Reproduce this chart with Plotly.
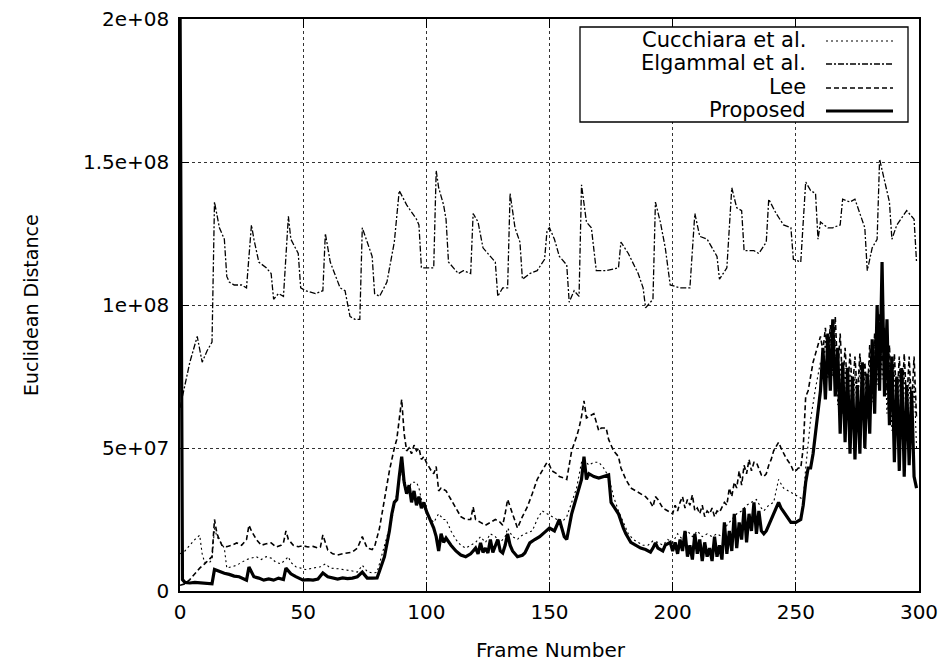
import plotly.graph_objects as go

# ---------------- data (values in units of 1e6) ----------------
elg_frames = [0, 2, 4, 6, 7, 9, 11, 13, 14, 16, 18, 19, 20, 22, 25, 27, 29, 30, 32, 35, 37, 38, 40, 42,
              44, 45, 48, 49, 51, 55, 58, 59, 61, 65, 67, 69, 71, 73, 74, 76, 78, 79, 81, 84, 87, 89,
              92, 96, 97, 98, 103, 104, 105, 107, 108, 109, 113, 115, 118, 119, 121, 123, 128, 129,
              131, 133, 134, 136, 138, 139, 142, 145, 148, 149, 150, 152, 154, 157, 158, 160, 162,
              163, 165, 167, 169, 173, 178, 179, 182, 186, 188, 189, 192, 193, 195, 197, 199, 203,
              207, 209, 211, 214, 218, 219, 222, 224, 226, 228, 229, 233, 235, 238, 239, 242, 245,
              248, 249, 252, 254, 256, 258, 259, 260, 263, 265, 268, 269, 272, 274, 278, 279, 281,
              283, 284, 286, 288, 289, 291, 295, 298, 299]
elg_vals = [64, 72, 80, 86, 89, 80, 84, 87, 136, 127, 123, 110, 108, 107, 107, 106, 128, 123, 115, 113,
            111, 102, 104, 103, 131, 123, 118, 106, 105, 104, 105, 125, 115, 106, 105, 96, 95, 95, 127,
            122, 117, 104, 103, 108, 122, 140, 135, 130, 128, 113, 113, 147, 141, 135, 130, 115, 111,
            112, 111, 132, 129, 120, 115, 103, 106, 106, 139, 127, 122, 109, 111, 112, 116, 126, 127,
            123, 117, 114, 101, 105, 103, 142, 129, 127, 112, 112, 113, 122, 118, 111, 106, 99, 102,
            136, 129, 120, 107, 106, 106, 132, 124, 123, 117, 109, 113, 141, 134, 133, 119, 119, 118,
            122, 137, 132, 128, 127, 116, 115, 143, 140, 139, 123, 129, 127, 127, 128, 137, 136, 137,
            127, 112, 120, 123, 151, 144, 136, 123, 128, 133, 130, 115]

cuc_frames = [0, 2, 4, 6, 8, 9, 10, 12, 13, 14, 15, 17, 18, 19, 21, 23, 25, 27, 29, 31, 33, 35, 37, 39,
              41, 43, 44, 45, 47, 49, 51, 54, 57, 59, 61, 64, 67, 70, 72, 74, 76, 78, 80, 82, 84, 86,
              88, 89, 90, 91, 92, 93, 94, 96, 97, 98, 100, 102, 103, 105, 107, 108, 110, 112, 114, 116,
              118, 120, 122, 124, 126, 128, 130, 132, 133, 135, 137, 138, 140, 143, 145, 147, 149, 151,
              153, 155, 157, 159, 161, 163, 164, 166, 168, 170, 172, 174, 176, 178, 180, 182, 184, 186,
              188, 190, 192, 194, 196, 198, 200, 202, 204, 206, 208, 210, 212, 214, 216, 218, 220, 222,
              224, 226, 228, 230, 232, 234, 236, 237, 239, 241, 243, 245, 247, 249, 251, 253, 254, 256,
              258, 260, 261, 262, 263, 264, 265, 266, 267, 268, 269, 270, 271, 272, 273, 274, 275, 276,
              277, 278, 279, 280, 281, 282, 283, 284, 285, 286, 287, 288, 289, 290, 291, 292, 293, 294,
              295, 296, 297, 298, 299]
cuc_vals = [13, 14, 16, 18, 19.5, 13, 10, 10, 11, 22, 19, 16, 15, 8, 8.5, 9, 10, 11, 11.5, 12, 11, 12,
            11.5, 10, 9.5, 11, 12, 10, 8.5, 8, 7.5, 8, 8.5, 9.5, 8, 7.8, 7.5, 7, 6.6, 9, 6.8, 6.3, 6.5,
            13, 19, 25, 34, 40, 42, 36, 35, 36, 38, 38, 36, 32, 27, 25, 24, 27, 25, 25, 21, 18, 16, 15,
            16, 17, 19, 17, 20, 19, 17, 19, 22, 19, 18, 19, 20, 21, 25, 28, 27, 26, 25, 24, 26, 31, 36,
            45, 46, 44, 45, 45, 43, 40, 33, 28, 24, 20, 18, 17, 16, 16, 17.5, 17, 16, 18, 17, 20, 18,
            21, 19, 21, 19, 20, 19, 20, 19, 23, 25, 27, 28, 30, 31, 32, 29, 28, 30, 31, 39, 36, 35, 34,
            33, 32, 43, 60, 71, 80, 76, 88, 74, 90, 75, 88, 65, 80, 62, 78, 60, 77, 58, 76, 60, 80, 62,
            76, 60, 82, 66, 88, 72, 95, 74, 88, 62, 80, 56, 77, 55, 76, 53, 77, 54, 75, 52, 74, 50]

lee_frames = [0, 2, 4, 6, 8, 10, 12, 13, 14, 15, 17, 19, 21, 23, 25, 27, 28, 29, 31, 33, 35, 37, 39, 41,
              42, 43, 44, 46, 48, 50, 52, 54, 56, 57, 58, 59, 60, 62, 64, 66, 68, 70, 72, 74, 75, 76,
              78, 79, 81, 83, 85, 87, 88, 89, 90, 91, 92, 93, 94, 95, 96, 97, 98, 99, 100, 102, 103,
              104, 105, 106, 108, 110, 112, 114, 116, 118, 119, 120, 122, 124, 126, 128, 130, 131, 132,
              133, 135, 137, 139, 141, 143, 145, 147, 149, 150, 151, 153, 154, 156, 157, 158, 159, 161,
              162, 163, 164, 165, 166, 168, 170, 171, 173, 174, 176, 178, 179, 181, 183, 185, 187, 189,
              191, 192, 193, 194, 196, 198, 200, 201, 202, 203, 204, 205, 206, 207, 208, 209, 210, 211,
              212, 213, 214, 215, 216, 217, 218, 219, 220, 221, 222, 223, 224, 225, 226, 227, 228, 229,
              230, 231, 232, 233, 234, 235, 236, 237, 238, 239, 240, 241, 243, 244, 246, 248, 249, 250,
              251, 252, 253, 254, 255, 256, 257, 258, 259, 260, 261, 262, 263, 264, 265, 266, 267, 268,
              269, 270, 271, 272, 273, 274, 275, 276, 277, 278, 279, 280, 281, 282, 283, 284, 285, 286,
              287, 288, 289, 290, 291, 292, 293, 294, 295, 296, 297, 298, 299]
lee_vals = [2, 2.5, 4, 6, 8, 9.5, 11, 12, 25, 20, 16, 15.5, 16, 16.8, 16, 18, 23, 21, 18, 16, 16.5,
            16.8, 15.4, 16, 16.8, 21, 18, 16, 15.5, 15.8, 15.4, 15.6, 15, 15.4, 19.6, 17, 14.3, 13,
            12.6, 13, 13.3, 13.6, 15, 19, 17, 15, 14.5, 15.5, 22, 32, 42, 50, 53, 60, 67, 55, 49, 50,
            48, 51, 49, 50, 46, 47, 45, 42, 41, 43.5, 35, 36, 35, 32, 29, 26, 25, 25, 29.4, 25, 24, 23,
            24, 25, 24, 23, 27, 32, 27, 22, 26, 29.4, 34, 39, 42, 45, 44, 42, 41, 40, 39.5, 39, 44, 49,
            54, 57, 61, 66.5, 60.5, 61, 62, 56, 57, 57, 53, 49, 47, 43, 39, 36, 35, 34, 33, 31, 29.4,
            33, 32, 29, 28, 27, 30, 28, 31, 33, 29, 32, 30, 33.6, 28, 29, 27, 30, 26, 28, 27, 29, 26,
            28, 27.5, 29, 31, 30, 36, 33, 38, 36, 42, 37, 44, 41, 46, 42, 45, 45, 43, 40.6, 40, 41, 44,
            46, 49, 52, 50, 46.5, 44, 42, 42, 43, 43, 50, 68, 70, 75, 80, 83, 86, 89, 84, 92, 80, 93,
            78, 96, 76, 90, 72, 85, 70, 83, 70, 82, 68, 83, 70, 80, 68, 86, 74, 90, 78, 97, 80, 92, 70,
            86, 66, 83, 65, 82, 64, 83, 65, 82, 64, 82, 60]

prop_frames = [0, 1, 2, 4, 6, 8, 10, 12, 13, 14, 16, 18, 20, 22, 24, 26, 27, 28, 30, 32, 34, 36, 38, 40,
               42, 43, 45, 47, 50, 52, 54, 56, 58, 60, 62, 64, 66, 68, 70, 72, 74, 76, 78, 80, 81, 83,
               85, 86, 87, 88, 89, 90, 91, 92, 93, 94, 95, 96, 97, 98, 99, 100, 102, 103, 104, 105, 106,
               107, 108, 110, 112, 114, 116, 118, 119, 120, 121, 122, 123, 124, 125, 126, 127, 128, 129,
               130, 131, 132, 133, 134, 135, 137, 139, 140, 142, 144, 146, 148, 150, 152, 154, 155, 156,
               157, 158, 159, 160, 161, 162, 163, 164, 165, 166, 168, 170, 172, 174, 175, 177, 178, 180,
               181, 183, 185, 187, 189, 191, 192, 193, 194, 196, 197, 199, 200, 201, 202, 203, 204, 205,
               206, 207, 208, 209, 210, 211, 212, 213, 214, 215, 216, 217, 218, 219, 220, 221, 222, 223,
               224, 225, 226, 227, 228, 229, 230, 231, 232, 233, 234, 235, 236, 237, 238, 240, 242, 243,
               244, 246, 248, 250, 252, 253, 254, 255, 256, 257, 258, 259, 260, 261, 262, 263, 264, 265,
               266, 267, 268, 269, 270, 271, 272, 273, 274, 275, 276, 277, 278, 279, 280, 281, 282, 283,
               284, 285, 286, 287, 288, 289, 290, 291, 292, 293, 294, 295, 296, 297, 298, 299]
prop_vals = [210, 4, 3, 2.8, 3, 2.8, 2.8, 2.6, 2.5, 7.5, 6.8, 6.2, 5.8, 5.2, 5, 4, 3.8, 8.4, 5, 4.5,
             3.8, 4.2, 3.8, 4.5, 4, 8, 6, 5, 3.8, 4, 3.8, 4.2, 6.3, 5, 4.5, 4.2, 4.6, 4.3, 4.5, 5, 6.6,
             4.5, 4.5, 4.6, 7, 12, 21, 27, 31, 32, 40, 47, 38, 34, 37, 31, 35, 30, 33, 29, 31, 28, 24,
             22, 19, 14, 20, 17, 18.5, 16, 14, 12.6, 12, 13, 14, 15, 13, 16.8, 13.5, 15, 13.3, 18, 13.5,
             16, 18, 14, 13.3, 16, 20, 16, 14, 12, 12.5, 13.3, 16.8, 18, 19, 20.5, 22, 21, 25, 22, 19,
             18, 23, 27, 30, 33, 36, 39, 47, 39, 41, 40, 39.5, 40, 40.6, 31, 28, 27, 22, 20, 17, 16, 15,
             14.5, 13.6, 15, 16.8, 15, 14, 16, 17, 14, 17, 13, 18, 14, 21, 12, 16, 11, 20, 13, 18, 10.5,
             17, 12, 15, 10.5, 19, 12, 16, 11, 24, 13, 21, 14, 27, 15, 24, 18, 29, 17, 27, 21, 31, 20, 28,
             21, 20, 21, 25, 29, 31, 29, 26.6, 24, 24, 25, 30, 38, 43, 43, 48, 55, 62, 70, 85, 67, 90,
             70, 95, 68, 85, 55, 80, 52, 78, 48, 75, 46, 72, 48, 80, 50, 76, 55, 88, 62, 100, 70, 115,
             68, 95, 58, 82, 45, 75, 42, 78, 40, 72, 44, 70, 40, 36]

series_names = ["Cucchiara et al.", "Elgammal et al.", "Lee", "Proposed"]
x_ticks = [0, 50, 100, 150, 200, 250, 300]
y_tickvals = [0, 5e7, 1e8, 1.5e8, 2e8]
y_ticktext = ["0", "5e+07", "1e+08", "1.5e+08", "2e+08"]

SCALE = 1e6
FONT = "DejaVu Sans, Liberation Sans, Arial, sans-serif"

styles = {
    "Cucchiara et al.": dict(color="black", width=1.1, dash="2px,3px"),
    "Elgammal et al.": dict(color="black", width=1.3, dash="6px,2px,2px,2px"),
    "Lee": dict(color="black", width=1.6, dash="5px,3px"),
    "Proposed": dict(color="black", width=3.2, dash="solid"),
}
data = {
    "Cucchiara et al.": (cuc_frames, cuc_vals),
    "Elgammal et al.": (elg_frames, elg_vals),
    "Lee": (lee_frames, lee_vals),
    "Proposed": (prop_frames, prop_vals),
}

fig = go.Figure()
for name in series_names:
    fr, vals = data[name]
    fig.add_trace(go.Scatter(
        x=fr, y=[v * SCALE for v in vals], mode="lines", name=name,
        line=styles[name], showlegend=False, hoverinfo="skip"))

W, H = 946, 663
L, R, T, B = 180, 27, 19, 72
pw, ph = W - L - R, H - T - B


def px_x(p):
    return (p - L) / pw


def px_y(p):
    return (H - B - p) / ph


axis_common = dict(
    showline=True, linecolor="black", linewidth=1.5, mirror="ticks",
    ticks="inside", ticklen=9, tickcolor="black", tickwidth=1,
    showgrid=True, gridcolor="#333333", griddash="dot", gridwidth=1,
    zeroline=False, automargin=False,
    tickfont=dict(family=FONT, size=20, color="black"),
)

fig.update_layout(
    width=W, height=H,
    margin=dict(l=L, r=R, t=T, b=B, autoexpand=False),
    paper_bgcolor="white", plot_bgcolor="white",
    font=dict(family=FONT, color="black"),
    xaxis=dict(range=[0, 300], tickvals=x_ticks, ticklabelstandoff=2, **axis_common),
    yaxis=dict(range=[0, 2e8], tickvals=y_tickvals, ticktext=y_ticktext,
               ticklabelstandoff=5, **axis_common),
)

# axis titles
fig.add_annotation(text="Frame Number", xref="paper", yref="paper", x=px_x(551), y=px_y(650),
                   showarrow=False, font=dict(family=FONT, size=20, color="black"),
                   xanchor="center", yanchor="middle")
fig.add_annotation(text="Euclidean Distance", xref="paper", yref="paper", x=px_x(31), y=px_y(305),
                   showarrow=False, textangle=-90, font=dict(family=FONT, size=19, color="black"),
                   xanchor="center", yanchor="middle")

# legend box (manual, gnuplot style: text right-aligned, sample at right)
fig.add_shape(type="rect", xref="paper", yref="paper",
              x0=px_x(580), x1=px_x(908), y0=px_y(122), y1=px_y(27),
              line=dict(color="black", width=1.3), fillcolor="white", layer="above")
rows = [40, 63, 87, 110]
for name, ry in zip(series_names, rows):
    fig.add_annotation(text=name, xref="paper", yref="paper", x=px_x(808), y=px_y(ry),
                       showarrow=False, xanchor="right", yanchor="middle",
                       font=dict(family=FONT, size=21, color="black"))
    st = styles[name]
    fig.add_shape(type="line", xref="paper", yref="paper",
                  x0=px_x(826), x1=px_x(893), y0=px_y(ry + 1), y1=px_y(ry + 1),
                  line=dict(color="black", width=st["width"], dash=st["dash"]), layer="above")

fig.write_html("out.html", config={"displayModeBar": False},
               post_script="document.body.style.margin='0';document.body.style.padding='0';")
